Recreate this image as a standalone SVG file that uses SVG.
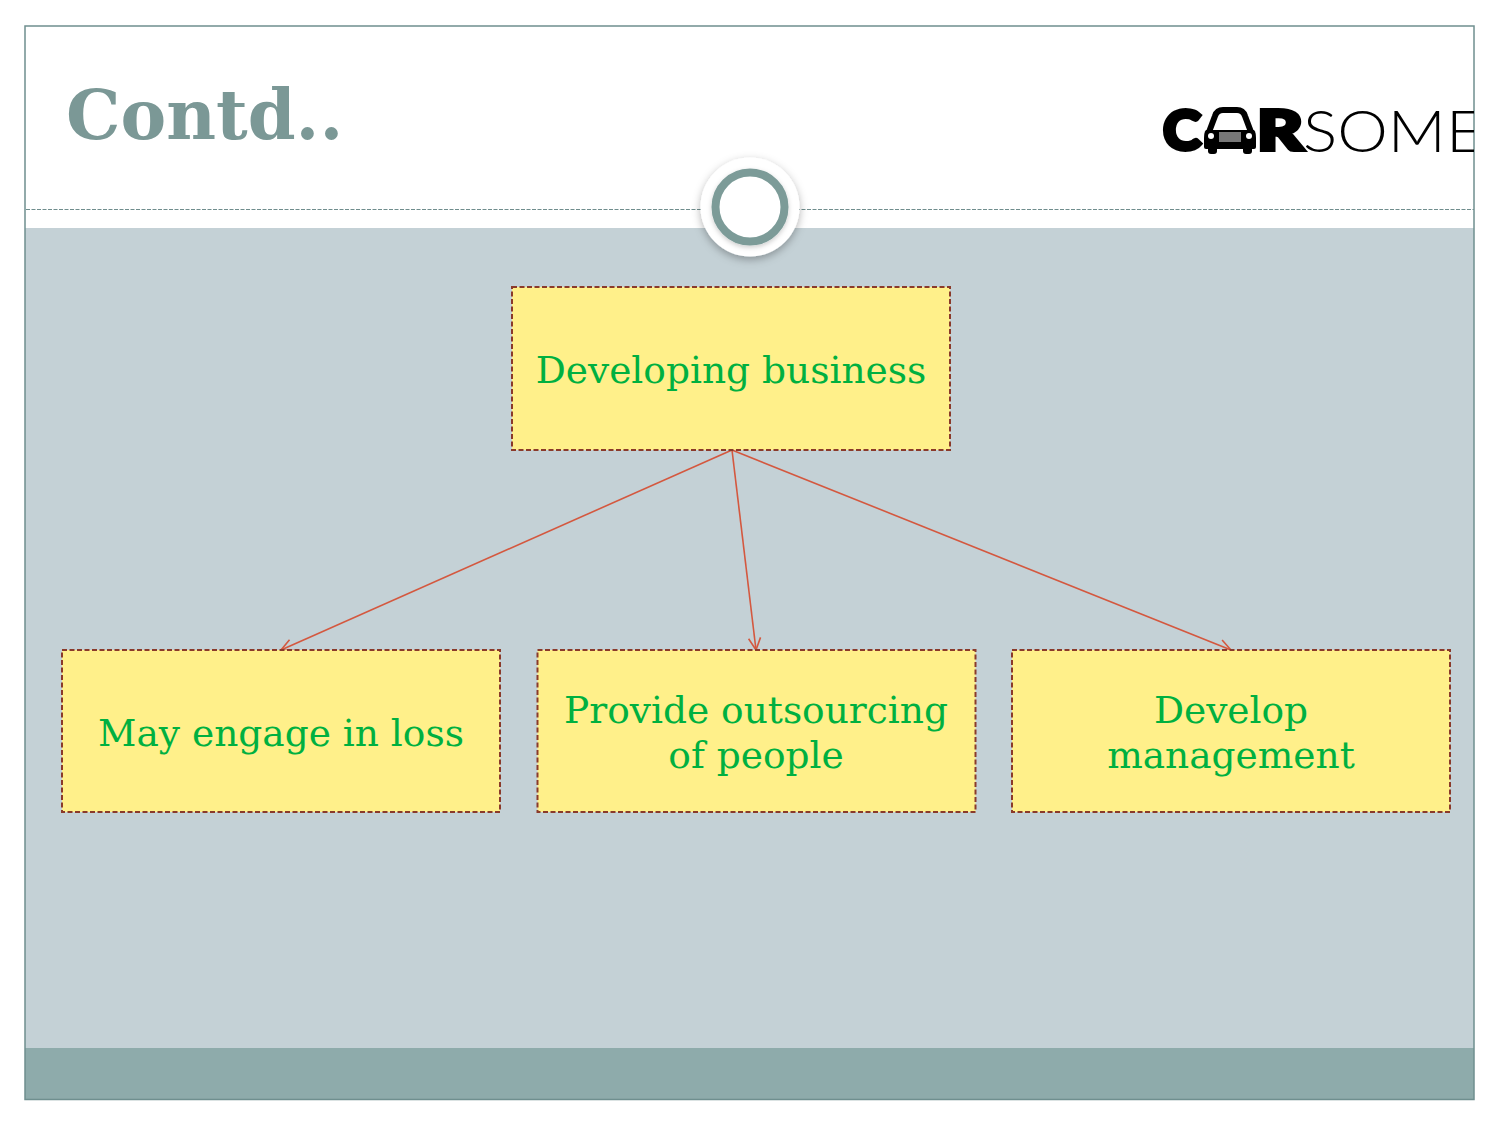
<svg xmlns="http://www.w3.org/2000/svg" width="1500" height="1125" viewBox="0 0 1500 1125">
<defs>
<style>
.box{fill:#fff08a;stroke:#8a3a2a;stroke-width:2;stroke-dasharray:5 2.5}
.lbl{font-family:"DejaVu Serif",serif;font-size:37.500px;fill:#00b040;text-anchor:middle}
.con{stroke:#d4583f;stroke-width:1.6;fill:none;marker-end:url(#arr)}
.logob{font-family:"Lato",sans-serif;font-weight:900;font-size:56px;fill:#000;stroke:#000;stroke-width:4}
.logol{font-family:"Lato",sans-serif;font-weight:300;font-size:58px;fill:#000}
</style>
<marker id="arr" markerUnits="userSpaceOnUse" markerWidth="20" markerHeight="20" refX="13" refY="7" orient="auto" overflow="visible"><path d="M1 1 L13 7 L1 13" fill="none" stroke="#d4583f" stroke-width="1.600"/></marker>
<filter id="sh" x="-30%" y="-30%" width="160%" height="160%"><feDropShadow dx="0" dy="3" stdDeviation="4" flood-color="#000" flood-opacity="0.3"/></filter>
<filter id="sh2" x="-30%" y="-30%" width="160%" height="160%"><feDropShadow dx="0" dy="2" stdDeviation="2.500" flood-color="#000" flood-opacity="0.2"/></filter>
<clipPath id="logoClip"><rect x="1150" y="90" width="324" height="80"/></clipPath>
</defs>
<rect width="1500" height="1125" fill="#fff"/>
<rect x="25" y="228" width="1449" height="820" fill="#c4d1d6"/>
<rect x="25" y="1048" width="1449" height="51" fill="#8eabab"/>
<line x1="26" y1="209.500" x2="1474" y2="209.500" stroke="#6f8d8d" stroke-width="1" stroke-dasharray="4 1.500"/>
<rect x="25" y="26" width="1449" height="1073.500" fill="none" stroke="#6f8f8f" stroke-width="1.500"/>
<text x="66" y="139" font-family="'DejaVu Serif',serif" font-weight="700" font-size="68.500" fill="#7b9896">Contd..</text>
<g id="logo" clip-path="url(#logoClip)">
<text class="logob" x="1163" y="150" textLength="38" lengthAdjust="spacingAndGlyphs">C</text>
<g id="car">
<path d="M1209 132 L1215 116 Q1217 110 1223 110 L1237 110 Q1243 110 1245 116 L1251 132" fill="none" stroke="#000" stroke-width="6"/>
<path d="M1206 130 H1254 Q1256 132 1256 138 V147 Q1256 149 1254 149 H1206 Q1204 149 1204 147 V138 Q1204 132 1206 130 Z" fill="#000"/>
<rect x="1208" y="146" width="9" height="8" rx="3" fill="#000"/>
<rect x="1243" y="146" width="9" height="8" rx="3" fill="#000"/>
<circle cx="1211" cy="136" r="3" fill="#fff"/>
<circle cx="1249" cy="136" r="3" fill="#fff"/>
<rect x="1219" y="132" width="22" height="10" fill="#777"/>
</g>
<text class="logob" x="1257" y="150" textLength="46" lengthAdjust="spacingAndGlyphs">R</text>
<text class="logol" x="1303" y="152" textLength="180" lengthAdjust="spacingAndGlyphs">SOME</text>
</g>
<g id="ring">
<circle cx="750" cy="207" r="49.500" fill="#fff" filter="url(#sh)"/>
<circle cx="750" cy="207" r="34.500" fill="#fff" stroke="#7b9b98" stroke-width="8" filter="url(#sh2)"/>
</g>
<g id="connectors">
<line class="con" x1="732" y1="450" x2="281" y2="650"/>
<line class="con" x1="732" y1="450" x2="756" y2="650"/>
<line class="con" x1="732" y1="450" x2="1231" y2="650"/>
</g>
<g id="node-developing"><rect class="box" x="512" y="287" width="438" height="163"/><text class="lbl" x="731" y="383">Developing business</text></g>
<g id="node-loss"><rect class="box" x="62" y="650" width="438" height="162"/><text class="lbl" x="281" y="746">May engage in loss</text></g>
<g id="node-outsourcing"><rect class="box" x="537.500" y="650" width="438" height="162"/><text class="lbl" x="756" y="723">Provide outsourcing</text><text class="lbl" x="756" y="768">of people</text></g>
<g id="node-management"><rect class="box" x="1012" y="650" width="438" height="162"/><text class="lbl" x="1231" y="723">Develop</text><text class="lbl" x="1231" y="768">management</text></g>
</svg>
